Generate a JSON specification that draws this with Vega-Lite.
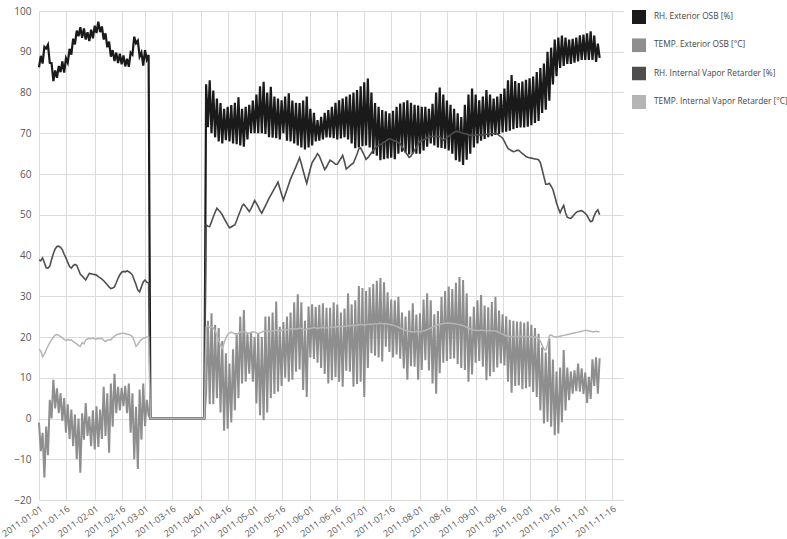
{
"$schema":"https://vega.github.io/schema/vega-lite/v6.json",
"width":584,"height":489,
"autosize":{"type":"none"},
"padding":{"left":39,"top":11,"right":164,"bottom":39},
"background":"white",
"config":{"view":{"stroke":null},"font":"Open Sans"},
"data":{"values":[
{"d":"2011-01-01","a":86.2,"b":-1,"c":38.9,"e":17},
{"d":"2011-01-02","a":89,"b":-8,"c":38.7,"e":16.6},
{"d":"2011-01-03","a":87.1,"b":-3.5,"c":39.4,"e":15.2},
{"d":"2011-01-04","a":91.2,"b":-14.5,"c":38.2,"e":15.8},
{"d":"2011-01-05","a":90.8,"b":-2,"c":37,"e":16.8},
{"d":"2011-01-06","a":91.7,"b":-9,"c":36.9,"e":17.8},
{"d":"2011-01-07","a":87.3,"b":4.6,"c":37.4,"e":18.6},
{"d":"2011-01-08","a":87.2,"b":0,"c":39,"e":19.3},
{"d":"2011-01-09","a":82.8,"b":9.5,"c":40.5,"e":20},
{"d":"2011-01-10","a":85.4,"b":2.5,"c":41.6,"e":20.5},
{"d":"2011-01-11","a":83.6,"b":7.4,"c":42.2,"e":20.6},
{"d":"2011-01-12","a":86.5,"b":1.3,"c":42.3,"e":20.4},
{"d":"2011-01-13","a":85,"b":6.2,"c":42,"e":20.1},
{"d":"2011-01-14","a":87.6,"b":-0.6,"c":41.4,"e":19.8},
{"d":"2011-01-15","a":84.9,"b":5,"c":40.3,"e":19.4},
{"d":"2011-01-16","a":88.4,"b":-3.5,"c":39.4,"e":19.1},
{"d":"2011-01-17","a":87.3,"b":3.5,"c":38.3,"e":19.4},
{"d":"2011-01-18","a":90.7,"b":-5,"c":37.3,"e":19.2},
{"d":"2011-01-19","a":89.3,"b":2.2,"c":36.9,"e":19.3},
{"d":"2011-01-20","a":93.2,"b":-6.8,"c":37.5,"e":18.9},
{"d":"2011-01-21","a":91.8,"b":1,"c":37.8,"e":18.6},
{"d":"2011-01-22","a":95.2,"b":-10,"c":37.6,"e":18.3},
{"d":"2011-01-23","a":93.8,"b":0,"c":36.5,"e":17.9},
{"d":"2011-01-24","a":96,"b":-13.3,"c":35.4,"e":17.7},
{"d":"2011-01-25","a":93.4,"b":1.3,"c":35,"e":18.6},
{"d":"2011-01-26","a":95.7,"b":-5.2,"c":34.5,"e":18.3},
{"d":"2011-01-27","a":93,"b":3.8,"c":34,"e":19.3},
{"d":"2011-01-28","a":94.8,"b":-4.3,"c":34.8,"e":19.5},
{"d":"2011-01-29","a":92.6,"b":0.5,"c":35.6,"e":19.7},
{"d":"2011-01-30","a":95.4,"b":-6.8,"c":35.5,"e":19.6},
{"d":"2011-01-31","a":93.3,"b":2,"c":35.4,"e":19.8},
{"d":"2011-02-01","a":96.4,"b":-7.6,"c":35.3,"e":19.5},
{"d":"2011-02-02","a":94.6,"b":3,"c":35.2,"e":19.5},
{"d":"2011-02-03","a":97.4,"b":-7,"c":34.8,"e":19.7},
{"d":"2011-02-04","a":94.8,"b":2.2,"c":34.5,"e":19.6},
{"d":"2011-02-05","a":96.2,"b":-5,"c":34.2,"e":19.7},
{"d":"2011-02-06","a":93,"b":7.8,"c":33.8,"e":19.2},
{"d":"2011-02-07","a":94.5,"b":-4.3,"c":33.3,"e":18.9},
{"d":"2011-02-08","a":91.1,"b":6.2,"c":32.8,"e":19.2},
{"d":"2011-02-09","a":92.5,"b":-8.4,"c":32.3,"e":19.4},
{"d":"2011-02-10","a":88.8,"b":8.6,"c":31.9,"e":19.3},
{"d":"2011-02-11","a":90.4,"b":-2,"c":32,"e":19.8},
{"d":"2011-02-12","a":87.7,"b":11,"c":32.3,"e":20.2},
{"d":"2011-02-13","a":89.8,"b":1.3,"c":33.3,"e":20.5},
{"d":"2011-02-14","a":87.2,"b":7.8,"c":34.4,"e":20.7},
{"d":"2011-02-15","a":89.5,"b":2,"c":35.3,"e":20.8},
{"d":"2011-02-16","a":86.9,"b":7.5,"c":35.9,"e":20.9},
{"d":"2011-02-17","a":89.1,"b":3,"c":36.1,"e":20.9},
{"d":"2011-02-18","a":86.4,"b":8,"c":36,"e":20.8},
{"d":"2011-02-19","a":88.3,"b":1.3,"c":36.2,"e":20.7},
{"d":"2011-02-20","a":86.3,"b":8.6,"c":36,"e":20.6},
{"d":"2011-02-21","a":89.8,"b":-3.5,"c":35.7,"e":20.4},
{"d":"2011-02-22","a":89.3,"b":6.2,"c":35.2,"e":20.1},
{"d":"2011-02-23","a":93.7,"b":-10,"c":34,"e":19},
{"d":"2011-02-24","a":92.1,"b":2.9,"c":32.8,"e":17.7},
{"d":"2011-02-25","a":92.7,"b":-12.4,"c":31.5,"e":18.2},
{"d":"2011-02-26","a":88.8,"b":7.1,"c":31.1,"e":18.9},
{"d":"2011-02-27","a":89.8,"b":-5.2,"c":32.3,"e":19.3},
{"d":"2011-02-28","a":86.6,"b":8.6,"c":33.5,"e":19.7},
{"d":"2011-03-01","a":90.4,"b":-1.9,"c":34,"e":19.8},
{"d":"2011-03-02","a":88.1,"b":4.6,"c":33.4,"e":20},
{"d":"2011-03-03","a":89.2,"b":0.8,"c":33.3,"e":20},
{"d":"2011-03-04","a":0,"b":0,"c":0,"e":0},
{"d":"2011-04-03","a":0,"b":0,"c":0,"e":0},
{"d":"2011-04-04","a":82,"b":6.1,"c":47.5,"e":22.5},
{"d":"2011-04-05","a":71.5,"b":24,"c":47.2,"e":22.6},
{"d":"2011-04-06","a":83,"b":3.5,"c":47.1,"e":22.4},
{"d":"2011-04-07","a":70,"b":25.8,"c":48.3,"e":22.5},
{"d":"2011-04-08","a":80.5,"b":3.5,"c":49.5,"e":22.2},
{"d":"2011-04-09","a":69,"b":23,"c":50.6,"e":21.5},
{"d":"2011-04-10","a":78.5,"b":5,"c":51.6,"e":20.5},
{"d":"2011-04-11","a":68,"b":22.2,"c":51.1,"e":19.2},
{"d":"2011-04-12","a":77.4,"b":1.5,"c":50.6,"e":18},
{"d":"2011-04-13","a":67.5,"b":19,"c":50,"e":17.2},
{"d":"2011-04-14","a":76,"b":-3,"c":49.1,"e":18.5},
{"d":"2011-04-15","a":68.3,"b":16,"c":48.3,"e":19.8},
{"d":"2011-04-16","a":76.5,"b":-2.5,"c":47.5,"e":20.6},
{"d":"2011-04-17","a":68,"b":13.5,"c":46.8,"e":21},
{"d":"2011-04-18","a":76.9,"b":-1,"c":47,"e":21.2},
{"d":"2011-04-19","a":67.5,"b":17,"c":47.3,"e":21},
{"d":"2011-04-20","a":77.5,"b":2,"c":47.5,"e":20.8},
{"d":"2011-04-21","a":67.3,"b":21,"c":48.6,"e":20.6},
{"d":"2011-04-22","a":78.8,"b":5,"c":49.8,"e":20.9},
{"d":"2011-04-23","a":67,"b":25,"c":50.9,"e":21.2},
{"d":"2011-04-24","a":76,"b":8.6,"c":52.1,"e":21.5},
{"d":"2011-04-25","a":66.7,"b":26.6,"c":52.6,"e":21.3},
{"d":"2011-04-26","a":76.5,"b":9,"c":52,"e":21.2},
{"d":"2011-04-27","a":68.5,"b":21,"c":51.4,"e":21},
{"d":"2011-04-28","a":77,"b":11,"c":50.8,"e":20.9},
{"d":"2011-04-29","a":70,"b":21,"c":51.5,"e":21.1},
{"d":"2011-04-30","a":78,"b":9,"c":52.5,"e":21.3},
{"d":"2011-05-01","a":70,"b":20,"c":53.5,"e":21.2},
{"d":"2011-05-02","a":79.5,"b":3.7,"c":52.8,"e":21},
{"d":"2011-05-03","a":70,"b":21,"c":52,"e":20.8},
{"d":"2011-05-04","a":81.5,"b":0.8,"c":51,"e":21},
{"d":"2011-05-05","a":70,"b":20,"c":50.4,"e":21.2},
{"d":"2011-05-06","a":82.6,"b":-0.4,"c":51.3,"e":21.4},
{"d":"2011-05-07","a":69.8,"b":25,"c":52.2,"e":21.5},
{"d":"2011-05-08","a":80,"b":1.5,"c":53.1,"e":21.6},
{"d":"2011-05-09","a":69,"b":25,"c":54,"e":21.4},
{"d":"2011-05-10","a":81.4,"b":5,"c":54.8,"e":21.3},
{"d":"2011-05-11","a":68.9,"b":26,"c":55.6,"e":21.5},
{"d":"2011-05-12","a":79,"b":6,"c":56.4,"e":21.6},
{"d":"2011-05-13","a":68.8,"b":28.7,"c":57.2,"e":21.7},
{"d":"2011-05-14","a":78.5,"b":6.6,"c":58,"e":21.6},
{"d":"2011-05-15","a":68.5,"b":22.5,"c":56.5,"e":21.5},
{"d":"2011-05-16","a":78.1,"b":8,"c":55,"e":21.6},
{"d":"2011-05-17","a":70,"b":23.7,"c":53.6,"e":21.8},
{"d":"2011-05-18","a":79,"b":10,"c":54.9,"e":21.9},
{"d":"2011-05-19","a":68.2,"b":25,"c":56.2,"e":21.7},
{"d":"2011-05-20","a":79.8,"b":9,"c":57.5,"e":21.8},
{"d":"2011-05-21","a":68,"b":26,"c":58.8,"e":22},
{"d":"2011-05-22","a":78,"b":9.5,"c":59.8,"e":22.1},
{"d":"2011-05-23","a":67.5,"b":28.5,"c":60.8,"e":22},
{"d":"2011-05-24","a":77.5,"b":11.5,"c":61.8,"e":21.9},
{"d":"2011-05-25","a":67,"b":30.5,"c":62.9,"e":22},
{"d":"2011-05-26","a":77.4,"b":12,"c":64,"e":22.2},
{"d":"2011-05-27","a":66.5,"b":28.5,"c":62.5,"e":22.1},
{"d":"2011-05-28","a":78,"b":7,"c":60.8,"e":21.9},
{"d":"2011-05-29","a":66,"b":24,"c":59.2,"e":21.8},
{"d":"2011-05-30","a":79,"b":5.3,"c":57.7,"e":21.9},
{"d":"2011-05-31","a":66.5,"b":27.5,"c":59.5,"e":22},
{"d":"2011-06-01","a":76,"b":15,"c":61.3,"e":22.1},
{"d":"2011-06-02","a":67,"b":28,"c":62.8,"e":22.2},
{"d":"2011-06-03","a":75,"b":14.6,"c":63.5,"e":22.3},
{"d":"2011-06-04","a":68,"b":27.4,"c":64.2,"e":22.2},
{"d":"2011-06-05","a":73.2,"b":13.7,"c":65,"e":22.1},
{"d":"2011-06-06","a":68.2,"b":27.9,"c":64.4,"e":22.2},
{"d":"2011-06-07","a":74,"b":12.4,"c":63.3,"e":22.3},
{"d":"2011-06-08","a":68.5,"b":28.3,"c":62.2,"e":22.4},
{"d":"2011-06-09","a":75,"b":10.9,"c":61.1,"e":22.3},
{"d":"2011-06-10","a":69,"b":27.2,"c":61.7,"e":22.2},
{"d":"2011-06-11","a":75.7,"b":8.6,"c":62.6,"e":22.3},
{"d":"2011-06-12","a":69,"b":27.2,"c":63.4,"e":22.4},
{"d":"2011-06-13","a":76.5,"b":9.4,"c":63.1,"e":22.5},
{"d":"2011-06-14","a":68.8,"b":28.5,"c":62.8,"e":22.4},
{"d":"2011-06-15","a":77.5,"b":10.2,"c":62.4,"e":22.5},
{"d":"2011-06-16","a":68.5,"b":28,"c":62.4,"e":22.6},
{"d":"2011-06-17","a":78.1,"b":9,"c":63.1,"e":22.5},
{"d":"2011-06-18","a":68.7,"b":26,"c":63.8,"e":22.6},
{"d":"2011-06-19","a":78.5,"b":7.8,"c":64.6,"e":22.7},
{"d":"2011-06-20","a":69,"b":27,"c":63,"e":22.6},
{"d":"2011-06-21","a":79,"b":11.7,"c":61.2,"e":22.7},
{"d":"2011-06-22","a":68.5,"b":30.7,"c":61.6,"e":22.8},
{"d":"2011-06-23","a":79.5,"b":11.5,"c":62,"e":22.7},
{"d":"2011-06-24","a":67.5,"b":28,"c":62.4,"e":22.8},
{"d":"2011-06-25","a":80,"b":7.8,"c":62.7,"e":22.9},
{"d":"2011-06-26","a":66.3,"b":29,"c":63.8,"e":22.8},
{"d":"2011-06-27","a":80.6,"b":8.5,"c":64.9,"e":22.9},
{"d":"2011-06-28","a":66.5,"b":32.5,"c":66.2,"e":23},
{"d":"2011-06-29","a":81.5,"b":9,"c":66.4,"e":23.1},
{"d":"2011-06-30","a":66.8,"b":32,"c":65.5,"e":23},
{"d":"2011-07-01","a":82.5,"b":5.3,"c":64.6,"e":22.9},
{"d":"2011-07-02","a":67,"b":31.3,"c":63.6,"e":23},
{"d":"2011-07-03","a":83.4,"b":12.4,"c":64,"e":23.1},
{"d":"2011-07-04","a":66.5,"b":32.2,"c":64.6,"e":23.2},
{"d":"2011-07-05","a":80,"b":16,"c":65.2,"e":23.1},
{"d":"2011-07-06","a":65,"b":33,"c":65.8,"e":23.2},
{"d":"2011-07-07","a":77.4,"b":15.4,"c":66.3,"e":23.3},
{"d":"2011-07-08","a":64.5,"b":33.8,"c":66.7,"e":23.2},
{"d":"2011-07-09","a":76.5,"b":15,"c":67,"e":23.3},
{"d":"2011-07-10","a":63.4,"b":34.5,"c":67.2,"e":23.4},
{"d":"2011-07-11","a":75.7,"b":14,"c":67.5,"e":23.3},
{"d":"2011-07-12","a":63.6,"b":33.4,"c":67.8,"e":23.2},
{"d":"2011-07-13","a":75.4,"b":17.6,"c":68.1,"e":23.3},
{"d":"2011-07-14","a":63.8,"b":31,"c":68.4,"e":23.2},
{"d":"2011-07-15","a":74.9,"b":16.3,"c":68.7,"e":23.1},
{"d":"2011-07-16","a":64,"b":29.2,"c":68.5,"e":23},
{"d":"2011-07-17","a":75.5,"b":15,"c":68.3,"e":22.9},
{"d":"2011-07-18","a":63.6,"b":29,"c":68.1,"e":22.8},
{"d":"2011-07-19","a":76.5,"b":15.7,"c":67.9,"e":22.6},
{"d":"2011-07-20","a":65,"b":29.9,"c":67.7,"e":22.4},
{"d":"2011-07-21","a":77.3,"b":14.7,"c":67.4,"e":22.2},
{"d":"2011-07-22","a":65.5,"b":26,"c":66.7,"e":22},
{"d":"2011-07-23","a":77.6,"b":12.3,"c":66,"e":21.8},
{"d":"2011-07-24","a":65.2,"b":25,"c":65.3,"e":21.6},
{"d":"2011-07-25","a":78.1,"b":9.5,"c":64.7,"e":21.5},
{"d":"2011-07-26","a":64.8,"b":26.5,"c":64.1,"e":21.4},
{"d":"2011-07-27","a":77.5,"b":12.8,"c":64.4,"e":21.3},
{"d":"2011-07-28","a":65,"b":28.3,"c":65.1,"e":21.3},
{"d":"2011-07-29","a":77,"b":12.7,"c":65.8,"e":21.3},
{"d":"2011-07-30","a":65,"b":25.5,"c":66.6,"e":21.4},
{"d":"2011-07-31","a":76.8,"b":9.5,"c":67.3,"e":21.3},
{"d":"2011-08-01","a":65,"b":25.8,"c":68,"e":21.3},
{"d":"2011-08-02","a":76.5,"b":11.9,"c":68.2,"e":21.4},
{"d":"2011-08-03","a":65.8,"b":29.2,"c":68.4,"e":21.5},
{"d":"2011-08-04","a":76.5,"b":14.3,"c":68.6,"e":21.6},
{"d":"2011-08-05","a":66.7,"b":30.7,"c":68.9,"e":21.8},
{"d":"2011-08-06","a":76,"b":11.8,"c":69.1,"e":22},
{"d":"2011-08-07","a":67.5,"b":29,"c":69.2,"e":22.2},
{"d":"2011-08-08","a":77.2,"b":8.6,"c":69.2,"e":22.4},
{"d":"2011-08-09","a":67,"b":25.6,"c":69.2,"e":22.6},
{"d":"2011-08-10","a":80,"b":6.1,"c":69.2,"e":22.8},
{"d":"2011-08-11","a":66.5,"b":26.4,"c":69.2,"e":23},
{"d":"2011-08-12","a":81.2,"b":11.1,"c":69.2,"e":23.1},
{"d":"2011-08-13","a":66.4,"b":29.9,"c":68.7,"e":23.2},
{"d":"2011-08-14","a":79.5,"b":13.7,"c":68.3,"e":23.3},
{"d":"2011-08-15","a":66.2,"b":31.3,"c":68.6,"e":23.4},
{"d":"2011-08-16","a":78,"b":14.1,"c":69,"e":23.4},
{"d":"2011-08-17","a":65.8,"b":32.4,"c":69.3,"e":23.4},
{"d":"2011-08-18","a":77,"b":14.6,"c":69.6,"e":23.4},
{"d":"2011-08-19","a":65,"b":31.8,"c":69.9,"e":23.3},
{"d":"2011-08-20","a":76,"b":14.7,"c":70.2,"e":23.3},
{"d":"2011-08-21","a":63.4,"b":33.3,"c":70.5,"e":23.2},
{"d":"2011-08-22","a":74.9,"b":13.4,"c":70.4,"e":23.1},
{"d":"2011-08-23","a":63,"b":34.7,"c":70.3,"e":23},
{"d":"2011-08-24","a":74,"b":12.4,"c":70.1,"e":22.9},
{"d":"2011-08-25","a":62.2,"b":34,"c":70,"e":22.8},
{"d":"2011-08-26","a":77,"b":11.9,"c":69.9,"e":22.6},
{"d":"2011-08-27","a":63.5,"b":30.7,"c":69.8,"e":22.4},
{"d":"2011-08-28","a":79.5,"b":9,"c":69.6,"e":22.2},
{"d":"2011-08-29","a":65,"b":25,"c":69.5,"e":22},
{"d":"2011-08-30","a":81,"b":10.8,"c":69.5,"e":21.8},
{"d":"2011-08-31","a":66.5,"b":27.4,"c":69.5,"e":21.7},
{"d":"2011-09-01","a":79.5,"b":13.7,"c":69.5,"e":21.6},
{"d":"2011-09-02","a":67.5,"b":29,"c":69.6,"e":21.6},
{"d":"2011-09-03","a":78.1,"b":14.1,"c":69.6,"e":21.6},
{"d":"2011-09-04","a":68.2,"b":30.3,"c":69.6,"e":21.7},
{"d":"2011-09-05","a":79,"b":12.7,"c":69.6,"e":21.6},
{"d":"2011-09-06","a":68.6,"b":27.7,"c":69.7,"e":21.6},
{"d":"2011-09-07","a":80.6,"b":9.4,"c":69.7,"e":21.5},
{"d":"2011-09-08","a":69,"b":27.3,"c":69.8,"e":21.6},
{"d":"2011-09-09","a":79.5,"b":10.4,"c":69.8,"e":21.6},
{"d":"2011-09-10","a":69.3,"b":28.6,"c":69.9,"e":21.5},
{"d":"2011-09-11","a":78.5,"b":11.4,"c":69.9,"e":21.6},
{"d":"2011-09-12","a":69.6,"b":29.9,"c":70,"e":21.5},
{"d":"2011-09-13","a":79,"b":12.5,"c":69.9,"e":21.3},
{"d":"2011-09-14","a":69.8,"b":26.5,"c":69.5,"e":21.1},
{"d":"2011-09-15","a":79.7,"b":13.5,"c":69.2,"e":20.9},
{"d":"2011-09-16","a":70.2,"b":25.6,"c":68.8,"e":20.7},
{"d":"2011-09-17","a":81,"b":13,"c":68,"e":20.5},
{"d":"2011-09-18","a":70.4,"b":25.1,"c":67.1,"e":20.3},
{"d":"2011-09-19","a":83,"b":9,"c":66.3,"e":20.2},
{"d":"2011-09-20","a":70.6,"b":24.2,"c":66,"e":20.1},
{"d":"2011-09-21","a":84.3,"b":6.3,"c":65.7,"e":20.1},
{"d":"2011-09-22","a":71,"b":24,"c":65.5,"e":20.1},
{"d":"2011-09-23","a":82.8,"b":8,"c":65.6,"e":20},
{"d":"2011-09-24","a":71.3,"b":23.8,"c":65.8,"e":20.1},
{"d":"2011-09-25","a":82.3,"b":8.1,"c":65.8,"e":20.1},
{"d":"2011-09-26","a":71.4,"b":23.8,"c":65.4,"e":20.2},
{"d":"2011-09-27","a":82.7,"b":7.2,"c":65,"e":20.1},
{"d":"2011-09-28","a":71.4,"b":23.5,"c":64.7,"e":20.1},
{"d":"2011-09-29","a":83.1,"b":7.4,"c":64.3,"e":20},
{"d":"2011-09-30","a":71.6,"b":23.8,"c":64.1,"e":20.1},
{"d":"2011-10-01","a":83.5,"b":7.8,"c":64,"e":20.1},
{"d":"2011-10-02","a":72,"b":23,"c":63.9,"e":20},
{"d":"2011-10-03","a":83.9,"b":6.5,"c":63.8,"e":20.1},
{"d":"2011-10-04","a":72.5,"b":22.2,"c":63.7,"e":20},
{"d":"2011-10-05","a":85,"b":5.3,"c":63.6,"e":19.9},
{"d":"2011-10-06","a":73,"b":20.8,"c":63.5,"e":19.6},
{"d":"2011-10-07","a":86,"b":2,"c":62.8,"e":19},
{"d":"2011-10-08","a":75,"b":17.5,"c":61.1,"e":18},
{"d":"2011-10-09","a":87.1,"b":-1.2,"c":59.3,"e":17},
{"d":"2011-10-10","a":75.8,"b":16.2,"c":57.5,"e":16.8},
{"d":"2011-10-11","a":90,"b":-0.8,"c":57.5,"e":18},
{"d":"2011-10-12","a":78,"b":19.6,"c":57.7,"e":20.3},
{"d":"2011-10-13","a":91,"b":-2,"c":57,"e":20.5},
{"d":"2011-10-14","a":82,"b":14.5,"c":56.2,"e":20.2},
{"d":"2011-10-15","a":93,"b":-4.1,"c":54.6,"e":20},
{"d":"2011-10-16","a":84,"b":11.5,"c":52.9,"e":20},
{"d":"2011-10-17","a":93.5,"b":-3.7,"c":51.6,"e":20.1},
{"d":"2011-10-18","a":86,"b":12.5,"c":50.5,"e":20.2},
{"d":"2011-10-19","a":94,"b":-0.9,"c":51.5,"e":20.3},
{"d":"2011-10-20","a":86.5,"b":16.8,"c":52.3,"e":20.4},
{"d":"2011-10-21","a":93.5,"b":2,"c":50.5,"e":20.5},
{"d":"2011-10-22","a":87,"b":12.5,"c":49.4,"e":20.6},
{"d":"2011-10-23","a":93,"b":4.5,"c":49.2,"e":20.7},
{"d":"2011-10-24","a":87,"b":11.5,"c":49.1,"e":20.8},
{"d":"2011-10-25","a":93.2,"b":6.1,"c":49.6,"e":20.9},
{"d":"2011-10-26","a":87.3,"b":11.8,"c":50.1,"e":21},
{"d":"2011-10-27","a":93.5,"b":6.7,"c":50.6,"e":21.1},
{"d":"2011-10-28","a":87.6,"b":13.5,"c":50.8,"e":21.2},
{"d":"2011-10-29","a":94,"b":6.6,"c":50.9,"e":21.3},
{"d":"2011-10-30","a":88,"b":12.3,"c":51,"e":21.4},
{"d":"2011-10-31","a":94.2,"b":6,"c":50.7,"e":21.5},
{"d":"2011-11-01","a":88,"b":11.3,"c":50.3,"e":21.6},
{"d":"2011-11-02","a":94.5,"b":3.8,"c":49.8,"e":21.6},
{"d":"2011-11-03","a":88,"b":10.2,"c":49,"e":21.5},
{"d":"2011-11-04","a":95,"b":4.8,"c":48.3,"e":21.4},
{"d":"2011-11-05","a":88,"b":14.5,"c":48.5,"e":21.3},
{"d":"2011-11-06","a":94,"b":8,"c":49.8,"e":21.3},
{"d":"2011-11-07","a":87.5,"b":15,"c":50.7,"e":21.4},
{"d":"2011-11-08","a":92,"b":6.1,"c":51.2,"e":21.3},
{"d":"2011-11-09","a":88.5,"b":14.8,"c":50,"e":21.3}
]},
"transform":[{"fold":["a","b","c","e"],"as":["series","value"]}],
"encoding":{
"x":{"field":"d","type":"temporal","scale":{"type":"utc","domain":[{"year":2011,"month":1,"date":1,"utc":true},{"year":2011,"month":11,"date":22,"utc":true}]},
"axis":{"title":null,"format":"%Y-%m-%d","labelAngle":-35,"labelAlign":"right","labelBaseline":"top","labelFontSize":9,"labelColor":"#555","labelPadding":4,"labelOverlap":false,"labelFlush":false,"domain":false,"ticks":false,"grid":true,"gridColor":"#dcdcdc","gridWidth":1,
"values":[{"year":2011,"month":1,"date":1,"utc":true},{"year":2011,"month":1,"date":16,"utc":true},{"year":2011,"month":2,"date":1,"utc":true},{"year":2011,"month":2,"date":16,"utc":true},{"year":2011,"month":3,"date":1,"utc":true},{"year":2011,"month":3,"date":16,"utc":true},{"year":2011,"month":4,"date":1,"utc":true},{"year":2011,"month":4,"date":16,"utc":true},{"year":2011,"month":5,"date":1,"utc":true},{"year":2011,"month":5,"date":16,"utc":true},{"year":2011,"month":6,"date":1,"utc":true},{"year":2011,"month":6,"date":16,"utc":true},{"year":2011,"month":7,"date":1,"utc":true},{"year":2011,"month":7,"date":16,"utc":true},{"year":2011,"month":8,"date":1,"utc":true},{"year":2011,"month":8,"date":16,"utc":true},{"year":2011,"month":9,"date":1,"utc":true},{"year":2011,"month":9,"date":16,"utc":true},{"year":2011,"month":10,"date":1,"utc":true},{"year":2011,"month":10,"date":16,"utc":true},{"year":2011,"month":11,"date":1,"utc":true},{"year":2011,"month":11,"date":16,"utc":true}]}},
"y":{"field":"value","type":"quantitative","scale":{"domain":[-20,100],"nice":false,"zero":false},
"axis":{"title":null,"values":[-20,-10,0,10,20,30,40,50,60,70,80,90,100],"labelFontSize":10,"labelColor":"#555","labelPadding":8,"domain":false,"ticks":false,"grid":true,"gridColor":"#dcdcdc"}},
"color":{"field":"series","type":"nominal","scale":{"domain":["a","b","c","e"],"range":["#1a1a1a","#8e8e8e","#4e4e4e","#b5b5b5"]},
"legend":{"orient":"none","legendX":593,"legendY":-1,"title":null,"symbolType":"square","symbolSize":4,"symbolStrokeWidth":12,"symbolOpacity":1,"labelFontSize":8.3,"labelColor":"#444","labelOffset":8,"clipHeight":14,"rowPadding":14.3,"labelLimit":200,
"labelExpr":"datum.label==='a'?'RH. Exterior OSB [%]':datum.label==='b'?'TEMP. Exterior OSB [°C]':datum.label==='c'?'RH. Internal Vapor Retarder [%]':'TEMP. Internal Vapor Retarder [°C]'"}}
},
"layer":[
{"transform":[{"filter":"datum.series==='a'"}],"mark":{"type":"line","strokeWidth":2.2}},
{"transform":[{"filter":"datum.series==='b'"}],"mark":{"type":"line","strokeWidth":2}},
{"transform":[{"filter":"datum.series==='c'"}],"mark":{"type":"line","strokeWidth":1.6}},
{"transform":[{"filter":"datum.series==='e'"}],"mark":{"type":"line","strokeWidth":1.5}}
]
}
